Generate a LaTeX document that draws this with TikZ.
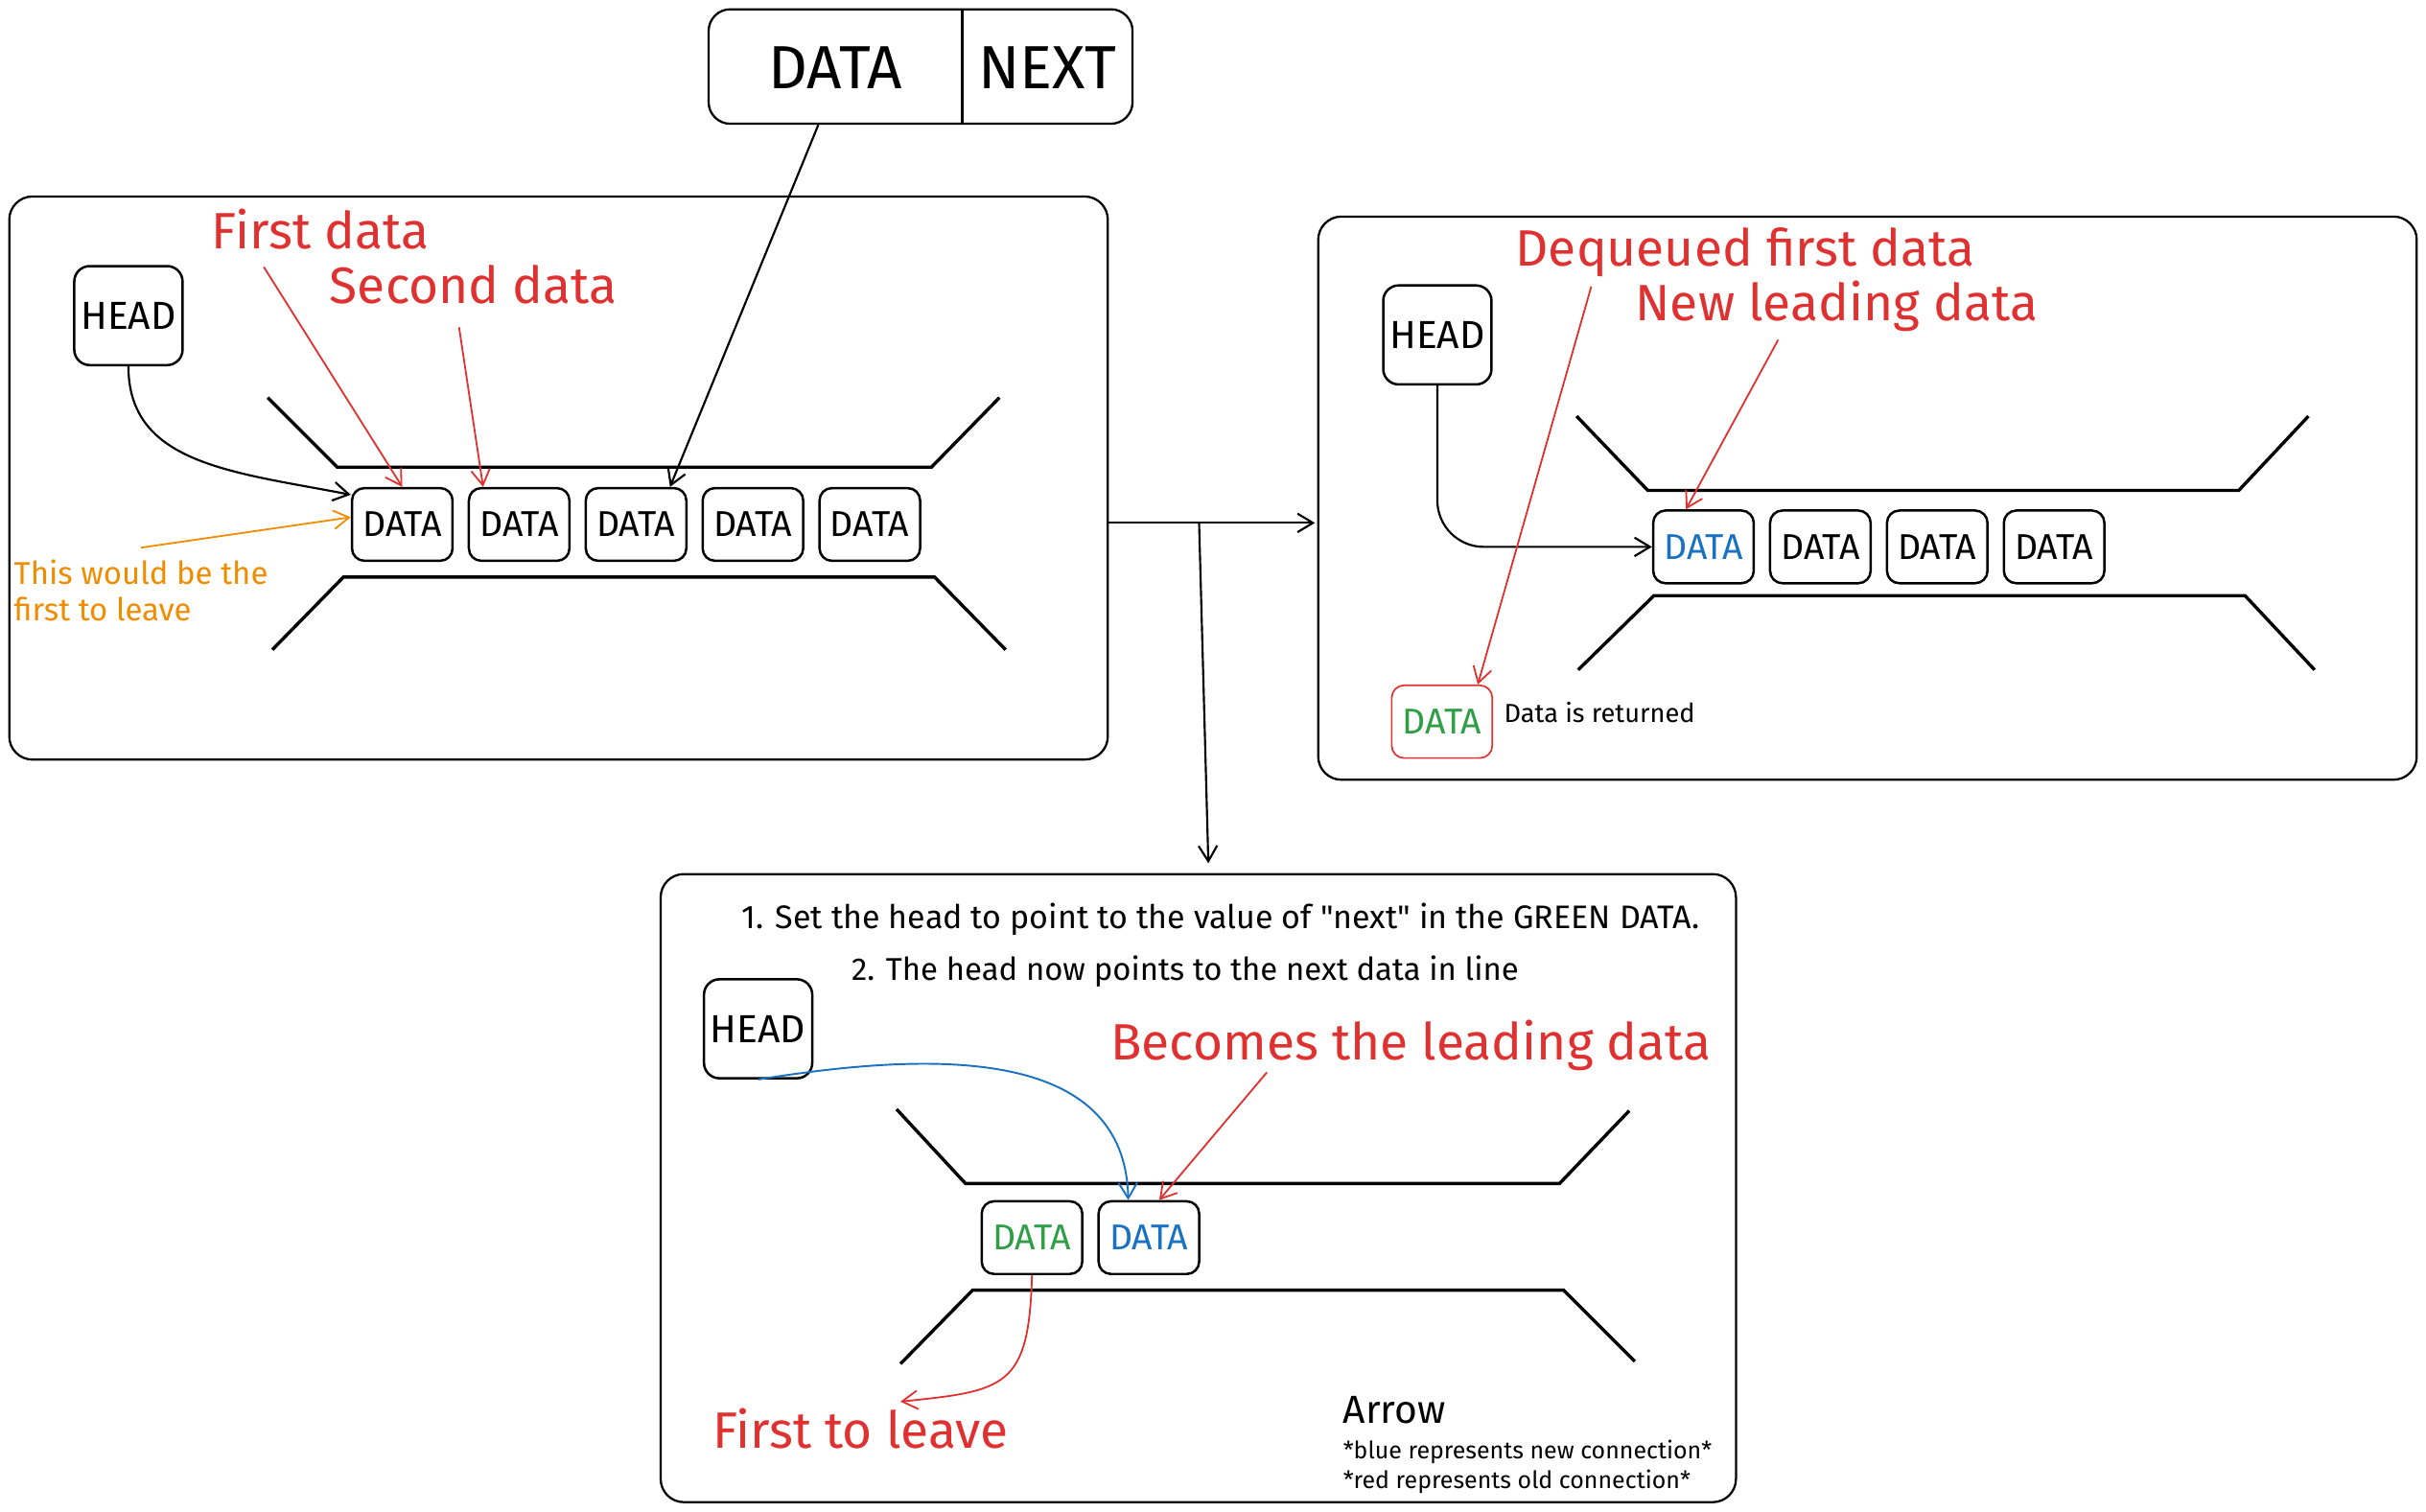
\documentclass[tikz,border=0pt]{standalone}
\usepackage{fontspec}
\setmainfont{Fira Sans}
\usepackage{tikz}
\usetikzlibrary{arrows.meta,positioning,calc}
\definecolor{hred}{HTML}{E03131}
\definecolor{horange}{HTML}{F08C00}
\definecolor{hgreen}{HTML}{2F9E44}
\definecolor{hblue}{HTML}{1971C2}

\begin{document}
\begin{tikzpicture}[x=0.5mm,y=-0.5mm]
\tikzstyle{panel} = [draw=black, line width=2pt, rounded corners=7.5mm, inner sep=0pt]
\tikzstyle{cell} = [draw=black, line width=2.2pt, rounded corners=4mm, minimum width=32.5mm, minimum height=23.5mm, inner sep=0pt, font=\fontsize{33}{33}\selectfont]
\tikzstyle{head} = [draw=black, line width=2.2pt, rounded corners=5mm, minimum width=35mm, minimum height=32mm, inner sep=0pt, font=\fontsize{36}{36}\selectfont]
\tikzstyle{pipe} = [draw=black, line width=3pt]
\tikzstyle{line} = [draw=black, line width=1.9pt, -{Straight Barb[length=5mm,width=6mm]}]
\tikzstyle{redline} = [line, draw=hred, line width=1.6pt]
\tikzstyle{redlabel} = [text=hred, font=\fontsize{47}{47}\selectfont, anchor=base, inner sep=0pt]
\tikzstyle{smalltext} = [font=\fontsize{24}{24}\selectfont, anchor=base west, inner sep=0pt]

\useasboundingbox (0,0) rectangle (1568,977);

 % node layout
\node[panel, rounded corners=7mm, minimum width=137mm, minimum height=37mm] (rec) at (595,43) {};
\coordinate (cut) at (622,43);
\draw[line width=2pt] (rec.north -| cut) -- (rec.south -| cut);
\node[font=\fontsize{56}{56}\selectfont] (recdata) at (540,44) {DATA};
\node[font=\fontsize{56}{56}\selectfont] (recnext) at (677,44) {NEXT};

\node[panel, minimum width=355mm, minimum height=182mm] (lpanel) at (361,309) {};
\node[panel, minimum width=355mm, minimum height=182mm] (rpanel) at (1207,322) {};
\node[panel, minimum width=347.5mm, minimum height=203mm] (bpanel) at (774.5,768) {};

 % left panel
\node[head] (head1) at (83,204) {HEAD};
\node[cell] (c1) at (260,339) {DATA};
\node[cell, right=4.5mm of c1] (c2) {DATA};
\node[cell, right=4.5mm of c2] (c3) {DATA};
\node[cell, right=4.5mm of c3] (c4) {DATA};
\node[cell, right=4.5mm of c4] (c5) {DATA};
\draw[pipe] (173,257) -- (218,302) -- (602,302) -- (646,257);
\draw[pipe] (176,420) -- (222,373) -- (604,373) -- (650,420);
\node[redlabel] (lfirst) at (207,161) {First data};
\node[redlabel] (lsecond) at (306,196) {Second data};
\node[text=horange, font=\fontsize{29}{33}\selectfont, align=left, anchor=north west, inner sep=0pt] (note) at (9,362) {This would be the\\first to leave};

 % right panel
\node[head] (head2) at (929,216.5) {HEAD};
\node[cell, text=hblue] (r1) at (1101,353.5) {DATA};
\node[cell, right=4.5mm of r1] (r2) {DATA};
\node[cell, right=4.5mm of r2] (r3) {DATA};
\node[cell, right=4.5mm of r3] (r4) {DATA};
\draw[pipe] (1019,269) -- (1065,317) -- (1447,317) -- (1492,269);
\draw[pipe] (1020,433) -- (1069,385) -- (1451,385) -- (1496,433);
\node[redlabel] (ldeq) at (1128,172) {Dequeued first data};
\node[redlabel] (lnew) at (1187,207.5) {New leading data};
\node[cell, draw=hred, text=hgreen, line width=1.5pt] (ret) at (932,466.5) {DATA};
\node[smalltext] (retnote) at (972,467) {Data is returned};

 % bottom panel
\node[anchor=base, font=\fontsize{30}{30}\selectfont] (step1) at (789,600) {1. Set the head to point to the value of \textquotedbl next\textquotedbl{} in the GREEN DATA.};
\node[anchor=base, font=\fontsize{29}{29}\selectfont] (step2) at (766,634) {2. The head now points to the next data in line};
\node[head] (head3) at (490,665) {HEAD};
\node[cell, text=hgreen] (g1) at (667,800) {DATA};
\node[cell, text=hblue, right=4.5mm of g1] (b1) {DATA};
\draw[pipe] (579.5,717) -- (624,765) -- (1008,765) -- (1053,718);
\draw[pipe] (582,881.6) -- (628.6,834) -- (1010.6,834) -- (1056.6,880);
\node[redlabel] (lbecome) at (912,685) {Becomes the leading data};
\node[redlabel] (lleave) at (556,936) {First to leave};
\node[smalltext, font=\fontsize{36}{36}\selectfont] (legend) at (868,920) {Arrow};
\node[smalltext, font=\fontsize{22}{22}\selectfont] (legblue) at (868,943) {*blue represents new connection*};
\node[smalltext, font=\fontsize{22}{22}\selectfont] (legred) at (868,962) {*red represents old connection*};
\coordinate (exitpt) at (582,906);

 % connectors
\coordinate (split) at (775,338);
\coordinate (drop) at (781,558);
\path[line] (lpanel.east |- split) -- ([xshift=-2pt]rpanel.west |- split);
\path[line] (split) -- (drop);

\path[line] ($(rec.south west)!0.26!(rec.south east)$) -- ($(c3.north west)!0.83!(c3.north east)$);
\path[line] (head1.south) .. controls (83,300) and (150,305) .. (c1.150);
\path[redline] ($(lfirst.south west)!0.24!(lfirst.south east)+(0,11)$) -- (c1.north);
\path[redline] ($(lsecond.south west)!0.45!(lsecond.south east)+(0,15)$) -- ($(c2.north west)!0.15!(c2.north east)$);
\path[line, draw=horange, line width=1.6pt] ($(note.north)+(0,-8)$) -- (c1.172);

\path[line, rounded corners=15mm] (head2.south) |- (r1.west);
\path[redline] ($(ldeq.south west)!0.165!(ldeq.south east)+(0,6)$) -- ($(ret.north west)!0.85!(ret.north east)$);
\path[redline] ($(lnew.south west)!0.355!(lnew.south east)+(0,5)$) -- ($(r1.north west)!0.33!(r1.north east)$);

\path[line, draw=hblue, line width=1.7pt] (head3.south) .. controls (600,680) and (727,675) .. ($(b1.north west)!0.3!(b1.north east)$);
\path[redline] ($(lbecome.south west)!0.26!(lbecome.south east)+(0,1)$) -- ($(b1.north west)!0.6!(b1.north east)$);
\path[redline] (g1.south) .. controls (665,897) and (650,899) .. (exitpt);
\end{tikzpicture}
\end{document}
